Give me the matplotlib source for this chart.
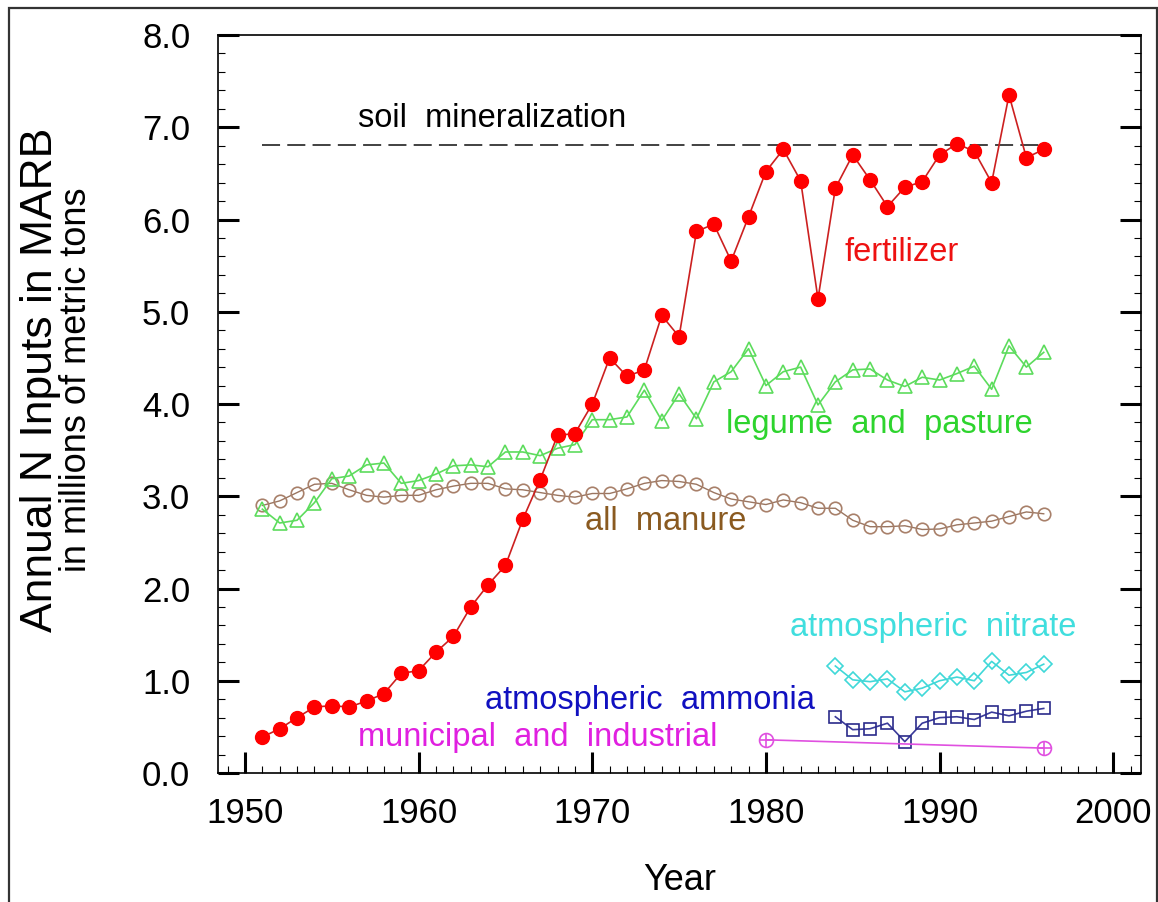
import numpy as np
import matplotlib
matplotlib.use("Agg")
import matplotlib.pyplot as plt
from matplotlib.patches import Rectangle

plt.rcParams['font.family'] = ['Liberation Sans', 'DejaVu Sans']

# data (millions of metric tons N per year)
years = np.arange(1951, 1997)
fertilizer = [0.39, 0.48, 0.60, 0.715, 0.73, 0.715, 0.78, 0.86, 1.08, 1.11,
              1.31, 1.48, 1.80, 2.04, 2.25, 2.75, 3.18, 3.66, 3.68, 4.00,
              4.50, 4.30, 4.37, 4.96, 4.73, 5.87, 5.95, 5.55, 6.03, 6.52,
              6.76, 6.42, 5.14, 6.34, 6.70, 6.43, 6.14, 6.35, 6.41, 6.70,
              6.82, 6.74, 6.40, 7.35, 6.67, 6.76]
legume = [2.86, 2.71, 2.74, 2.93, 3.19, 3.22, 3.34, 3.36, 3.14, 3.17,
          3.24, 3.33, 3.34, 3.32, 3.48, 3.48, 3.44, 3.52, 3.56, 3.83,
          3.83, 3.86, 4.15, 3.82, 4.11, 3.84, 4.24, 4.35, 4.60, 4.20,
          4.35, 4.40, 3.99, 4.24, 4.37, 4.38, 4.26, 4.19, 4.29, 4.26,
          4.33, 4.41, 4.16, 4.63, 4.40, 4.56]
manure = [2.90, 2.95, 3.04, 3.13, 3.14, 3.07, 3.01, 2.99, 3.01, 3.01,
          3.07, 3.11, 3.14, 3.14, 3.08, 3.07, 3.04, 3.01, 2.99, 3.03,
          3.03, 3.08, 3.14, 3.17, 3.16, 3.13, 3.04, 2.97, 2.94, 2.91,
          2.96, 2.93, 2.87, 2.87, 2.74, 2.67, 2.67, 2.68, 2.64, 2.645,
          2.69, 2.71, 2.73, 2.78, 2.83, 2.81]

atm_years = np.arange(1984, 1997)
nitrate = [1.16, 1.01, 0.99, 1.02, 0.88, 0.92, 1.00, 1.04, 1.00, 1.21, 1.06, 1.09, 1.18]
ammonia = [0.61, 0.47, 0.48, 0.54, 0.34, 0.54, 0.60, 0.61, 0.58, 0.66, 0.62, 0.67, 0.70]

muni_years = [1980, 1996]
municipal = [0.36, 0.27]

soil_years = [1951, 1996]
soil = [6.81, 6.81]

fig = plt.figure(figsize=(11.58, 9.02), dpi=100)
ax = fig.add_axes([0.1883, 0.1430, 0.9853 - 0.1883, 0.9612 - 0.1430])

# frame around the whole picture
fig.patches.append(Rectangle((9 / 1158, -0.1), 1148 / 1158, 1.1 - 8 / 902,
                             transform=fig.transFigure, fill=False,
                             edgecolor='#333333', linewidth=1.6, clip_on=False))

ax.plot(soil_years, soil, color='#333333', lw=1.3, dashes=(10, 4))
ax.plot(years, manure, color='#9a7560', lw=1.0, marker='o', ms=9,
        mfc='none', mec='#a8806a', mew=1.2)
ax.plot(years, legume, color='#5ddc5d', lw=1.2, marker='^', ms=9.5,
        mfc='none', mec='#5ddc5d', mew=1.2)
ax.plot(years, fertilizer, color='#cc2020', lw=1.2, marker='o', ms=10,
        mfc='#ff0000', mec='#ff0000')
ax.plot(atm_years, nitrate, color='#40d8d8', lw=1.2, marker='D', ms=8,
        mfc='none', mec='#40d8d8', mew=1.2)
ax.plot(atm_years, ammonia, color='#3a3a9a', lw=1.2, marker='s', ms=9,
        mfc='none', mec='#2a2a8a', mew=1.2)
ax.plot(muni_years, municipal, color='#e050e0', lw=1.2, marker='o', ms=10,
        mfc='none', mec='#e050e0', mew=1.2)
ax.plot(muni_years, municipal, ls='none', marker='+', ms=10,
        mec='#e050e0', mew=1.2)

fs = 23.5
ax.text(1956.5, 7.09, 'soil  mineralization', color='black', fontsize=fs, va='center')
ax.text(1984.5, 5.64, 'fertilizer', color='#ee1111', fontsize=fs, va='center')
ax.text(1977.7, 3.78, 'legume  and  pasture', color='#2ed42e', fontsize=fs, va='center')
ax.text(1969.6, 2.73, 'all  manure', color='#8a5a20', fontsize=fs, va='center')
ax.text(1981.4, 1.58, 'atmospheric  nitrate', color='#40dede', fontsize=fs, va='center')
ax.text(1963.8, 0.79, 'atmospheric  ammonia', color='#1010c0', fontsize=fs, va='center')
ax.text(1956.5, 0.39, 'municipal  and  industrial', color='#e020e0', fontsize=fs, va='center')

ax.set_xlim(1948.45, 2001.6)
ax.set_ylim(0, 8)
ax.set_xticks(np.arange(1950, 2001, 10))
ax.set_xticks(np.arange(1949, 2002, 1), minor=True)
ax.set_yticks(np.arange(0, 8.01, 1.0))
ax.set_yticks(np.arange(0, 8.01, 0.2), minor=True)
ax.yaxis.set_major_formatter(matplotlib.ticker.FormatStrFormatter('%.1f'))

ax.tick_params(which='both', direction='in', left=True, right=True,
               bottom=True, top=False, labelsize=25)
ax.tick_params(which='major', length=15, width=2.2)
ax.tick_params(which='minor', length=5, width=0.8)
ax.tick_params(axis='y', pad=20)
ax.tick_params(axis='x', pad=17)
for s in ax.spines.values():
    s.set_linewidth(1.2)

ax.set_xlabel('Year', fontsize=26, labelpad=24)
fig.text(0.0350, 0.5787, 'Annual N Inputs in MARB', rotation=90,
         fontsize=32, ha='center', va='center')
fig.text(0.0660, 0.5787, 'in millions of metric tons', rotation=90,
         fontsize=26, ha='center', va='center')

fig.savefig('out.png', dpi=100)
